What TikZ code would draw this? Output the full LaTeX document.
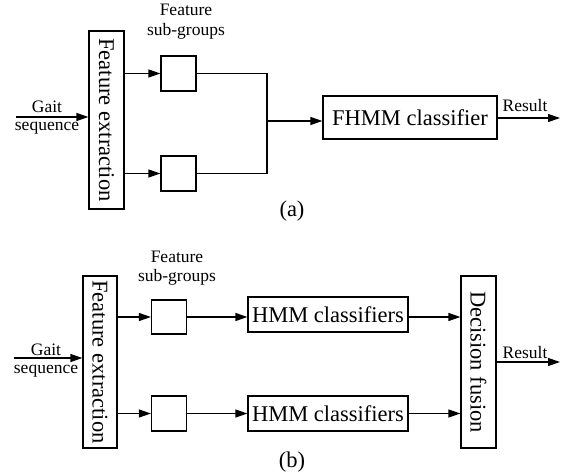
\documentclass[tikz,border=0pt]{standalone}
\usepackage{fontspec}
\setmainfont{Liberation Serif}
\usetikzlibrary{arrows.meta}
\begin{document}
\begin{tikzpicture}[x=1pt,y=-1pt,
  line width=1.2pt,
  box/.style={draw, inner sep=0pt, font=\fontsize{22.5}{27}\selectfont},
  lbl/.style={inner sep=0pt, anchor=base, font=\fontsize{17.5}{21}\selectfont},
  sublabel/.style={inner sep=0pt, anchor=base, font=\fontsize{22.5}{27}\selectfont},
  arr/.style={-{Triangle[length=12pt,width=8pt]}}]
\useasboundingbox (0,0) rectangle (568,473);
% ---------- (a) ----------
\node[box, minimum width=35pt, minimum height=178pt] (fe1) at (106.5,120) {\rotatebox{-90}{Feature extraction}};
\node[box, minimum width=35pt, minimum height=35pt] (s1a) at (178.5,73.5) {};
\node[box, minimum width=35pt, minimum height=35pt] (s2a) at (178.5,173.5) {};
\node[box, minimum width=174pt, minimum height=43pt] (fhmm) at (410,117.5) {FHMM classifier};
\coordinate (ga) at (16,117);
\draw[arr] (ga) -- (ga -| fe1.west);
\node[lbl] (gait1) at (47,113) {Gait};
\node[lbl] (seq1) at (47,131) {sequence};
\draw[arr] (s1a.west -| fe1.east) -- (s1a.west);
\draw[arr] (s2a.west -| fe1.east) -- (s2a.west);
\coordinate (ma) at (267,121);
\draw (s1a.east) -- (s1a.east -| ma) -- (s2a.east -| ma) -- (s2a.east);
\draw[arr] (ma) -- (ma -| fhmm.west);
\coordinate (ra) at (560,118);
\draw[arr] (fhmm.east |- ra) -- (ra);
\node[lbl] (res1) at (525,112) {Result};
\node[lbl] (fsa1) at (186,16) {Feature};
\node[lbl] (fsa2) at (186,36) {sub-groups};
\node[sublabel] (la) at (292,217) {(a)};
% ---------- (b) ----------
\node[box, minimum width=34pt, minimum height=172pt] (fe2) at (100,362) {\rotatebox{-90}{Feature extraction}};
\node[box, minimum width=35pt, minimum height=34pt] (s1b) at (169,317) {};
\node[box, minimum width=35pt, minimum height=35pt] (s2b) at (169,413.5) {};
\node[box, minimum width=160pt, minimum height=35pt] (hmm1) at (328,314.5) {HMM classifiers};
\node[box, minimum width=160pt, minimum height=35pt] (hmm2) at (328,413.5) {HMM classifiers};
\node[box, minimum width=35pt, minimum height=172pt] (df) at (478.5,362) {\rotatebox{-90}{Decision fusion}};
\coordinate (gb) at (14,358);
\draw[arr] (gb) -- (gb -| fe2.west);
\node[lbl] (gait2) at (46,355) {Gait};
\node[lbl] (seq2) at (46,373) {sequence};
\draw[arr] (s1b.west -| fe2.east) -- (s1b.west);
\draw[arr] (s2b.west -| fe2.east) -- (s2b.west);
\draw[arr] (s1b.east) -- (s1b.east -| hmm1.west);
\draw[arr] (s2b.east) -- (s2b.east -| hmm2.west);
\draw[arr] (s1b.east -| hmm1.east) -- (s1b.east -| df.west);
\draw[arr] (s2b.east -| hmm2.east) -- (s2b.east -| df.west);
\coordinate (rb) at (560,362);
\draw[arr] (df.east |- rb) -- (rb);
\node[lbl] (res2) at (525,358) {Result};
\node[lbl] (fsb1) at (177,263) {Feature};
\node[lbl] (fsb2) at (177,282) {sub-groups};
\node[sublabel] (lb) at (292,467) {(b)};
\end{tikzpicture}
\end{document}
